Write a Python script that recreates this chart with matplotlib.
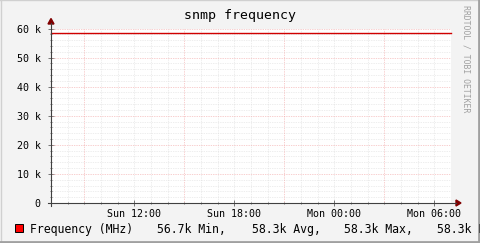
import matplotlib
matplotlib.use('Agg')
import matplotlib.pyplot as plt
import numpy as np

############### data
hours = [7, 9, 11, 13, 15, 17, 19, 21, 23, 25, 27, 29, 31]
freq = [58300, 58300, 58300, 58300, 58300, 58300, 58300, 58300,
        58300, 58300, 58300, 58300, 58300]
xlabels = ['Sun 12:00', 'Sun 18:00', 'Mon 00:00', 'Mon 06:00']
xlabel_pos = [12, 18, 24, 30]
xmajor = [9, 15, 21, 27]
ylabels = ['0', '10 k', '20 k', '30 k', '40 k', '50 k', '60 k']
legend_items = ['Frequency (MHz)', '56.7k Min,', '58.3k Avg,', '58.3k Max,', '58.3k Last']
legend_x = [30, 157, 252, 344, 437]

W, H = 481, 243
mono = 'DejaVu Sans Mono'

fig = plt.figure(figsize=(W/100, H/100), dpi=100)
fig.patch.set_facecolor('#f3f3f3')

def px(x, y):
    return x / W, 1 - y / H

############### plot area
l, t, r, b = 51, 28.5, 451, 203
ax = fig.add_axes([l/W, 1 - b/H, (r-l)/W, (b-t)/H])
ax.set_facecolor('white')
ax.set_xlim(7, 31)
ax.set_ylim(0, 60000)
for s in ax.spines.values():
    s.set_visible(False)

# minor grid
for h in range(8, 31):
    if h not in xmajor:
        ax.axvline(h, color='#dcdcdc', lw=0.5, ls=(0, (1, 1.5)), zorder=1)
for v in range(2000, 60001, 2000):
    if v % 10000:
        ax.axhline(v, color='#dcdcdc', lw=0.5, ls=(0, (1, 1.5)), zorder=1)
# major grid
for h in xmajor:
    ax.axvline(h, color='#f2a0a0', lw=0.5, ls=(0, (1, 1.5)), zorder=2)
for v in range(10000, 60001, 10000):
    ax.axhline(v, color='#f2a0a0', lw=0.5, ls=(0, (1, 1.5)), zorder=2)

ax.plot(hours, freq, color='#d00000', lw=1.0, zorder=5, clip_on=False)

ax.set_xticks(xlabel_pos)
ax.set_xticklabels(xlabels, fontfamily=mono, fontsize=7.2)
ax.set_yticks(range(0, 60001, 10000))
ax.set_yticklabels(ylabels, fontfamily=mono, fontsize=7.2)
ax.set_xticks(range(8, 31), minor=True)
ax.set_yticks(range(2000, 60001, 2000), minor=True)
ax.tick_params(axis='both', which='major', direction='inout', length=5, width=0.6,
               color='#606060', pad=2)
ax.tick_params(axis='both', which='minor', direction='inout', length=2, width=0.6,
               color='#606060')
ax.tick_params(axis='y', pad=5)

# axes with arrows
fig.add_artist(plt.Line2D([px(48, 0)[0], px(456, 0)[0]], [1 - b/H]*2,
                          color='#404040', lw=0.8))
fig.add_artist(plt.Line2D([l/W]*2, [px(0, 206)[1], px(0, 23)[1]],
                          color='#404040', lw=0.8))
fig.patches.append(plt.Polygon([px(456, 200), px(456, 206), px(461, 203)],
                               closed=True, color='#800000', transform=fig.transFigure))
fig.patches.append(plt.Polygon([px(48, 24), px(54, 24), px(51, 18.5)],
                               closed=True, color='#800000', transform=fig.transFigure))

############### texts
fig.text(*px(240, 19), 'snmp frequency', fontfamily=mono, fontsize=9.5,
         ha='center', va='baseline', color='black')
fig.text(*px(466, 5), 'RRDTOOL / TOBI OETIKER', fontfamily=mono, fontsize=5.9,
         rotation=-90, ha='center', va='top', color='#a0a0a0')

fig.patches.append(plt.Rectangle(px(15, 232), 8/W, 8/H, facecolor='#ff0000',
                                 edgecolor='black', lw=0.7, transform=fig.transFigure))
for txt, x in zip(legend_items, legend_x):
    fig.text(*px(x, 229), txt, fontfamily=mono, fontsize=8.3, ha='left',
             va='center', color='black')

# 3d frame
fig.add_artist(plt.Line2D([0, 1], [1 - 0.5/H]*2, color='#d0d0d0', lw=1))
fig.add_artist(plt.Line2D([0.5/W]*2, [0, 1], color='#d0d0d0', lw=1))
fig.add_artist(plt.Line2D([0, 1], [1.5/H]*2, color='#a0a0a0', lw=2))
fig.add_artist(plt.Line2D([1 - 1.5/W]*2, [0, 1], color='#a0a0a0', lw=2))

fig.savefig('out.png', dpi=100, facecolor=fig.get_facecolor())
